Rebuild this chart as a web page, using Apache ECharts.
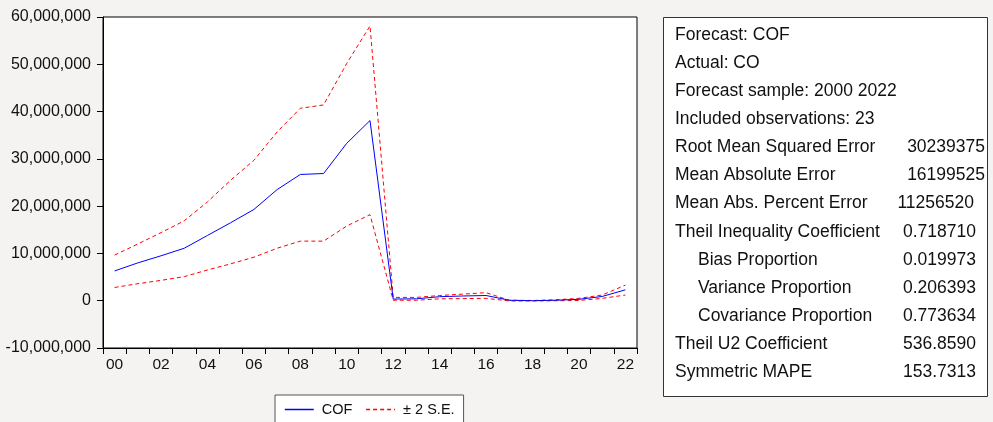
<!DOCTYPE html>
<html>
<head>
<meta charset="utf-8">
<script src="https://cdn.jsdelivr.net/npm/echarts@6/dist/echarts.min.js"></script>
<style>
html,body{margin:0;padding:0;background:#f5f3f1;}
#chart{width:993px;height:422px;}
</style>
</head>
<body>
<div id="chart"></div>
<script>
const years = ['00','01','02','03','04','05','06','07','08','09','10','11','12','13','14','15','16','17','18','19','20','21','22'];
const cof = [6.3e6, 8.0e6, 9.5e6, 11.1e6, 13.8e6, 16.5e6, 19.3e6, 23.5e6, 26.7e6, 26.9e6, 33.3e6, 38.1e6,
             0.35e6, 0.4e6, 0.85e6, 1.0e6, 1.1e6, 0.1e6, 0.0e6, 0.1e6, 0.3e6, 0.9e6, 2.3e6];
const upper = [9.65e6, 12.0e6, 14.4e6, 16.9e6, 20.9e6, 25.5e6, 29.7e6, 35.7e6, 40.7e6, 41.4e6, 50.2e6, 58.1e6,
               0.7e6, 0.7e6, 1.1e6, 1.4e6, 1.7e6, 0.1e6, 0.05e6, 0.2e6, 0.5e6, 1.2e6, 3.3e6];
const lower = [2.8e6, 3.6e6, 4.3e6, 5.1e6, 6.5e6, 7.8e6, 9.2e6, 11.1e6, 12.6e6, 12.6e6, 15.8e6, 18.2e6,
               0.1e6, 0.1e6, 0.4e6, 0.45e6, 0.5e6, -0.05e6, -0.05e6, 0.0e6, 0.05e6, 0.5e6, 1.2e6];
const statLabels = ['Forecast: COF','Actual: CO','Forecast sample: 2000 2022','Included observations: 23',
  'Root Mean Squared Error','Mean Absolute Error','Mean Abs. Percent Error','Theil Inequality Coefficient',
  '   Bias Proportion','   Variance Proportion','   Covariance Proportion','Theil U2 Coefficient','Symmetric MAPE'];
const statValues = ['','','','','30239375','16199525','11256520','0.718710','0.019973','0.206393','0.773634','536.8590','153.7313'];

const FONT = '"Liberation Sans", Arial, sans-serif';
const chart = echarts.init(document.getElementById('chart'), null, {renderer:'canvas'});

const graphics = [{
  type:'rect', shape:{x:663.5, y:17.5, width:324, height:379},
  style:{fill:'#ffffff', stroke:'#333333', lineWidth:1}, z:0
}];
statLabels.forEach((t,i)=>{
  const y = 35 + i*28.1;
  const indent = t.startsWith('   ');
  graphics.push({type:'text', x: indent?698:675, y:y, style:{text:t.trim(), font:'17.5px '+FONT, fill:'#111', textVerticalAlign:'middle', textAlign:'left'}, z:1});
  if (statValues[i]) {
    const rx = (i===4||i===5)?985:(i===6?974:976);
    graphics.push({type:'text', x: rx, y:y, style:{text:statValues[i], font:'17.5px '+FONT, fill:'#111', textVerticalAlign:'middle', textAlign:'right'}, z:1});
  }
});

chart.setOption({
  backgroundColor:'#f5f3f1',
  animation:false,
  grid:{left:103, top:17, right:356, bottom:74, show:true, backgroundColor:'#ffffff', borderColor:'#000', borderWidth:1},
  legend:{
    left:275, top:395, orient:'horizontal',
    backgroundColor:'#ffffff', borderColor:'#555', borderWidth:1,
    padding:[7,9,14,9], itemGap:13, itemWidth:29, itemHeight:1,
    itemStyle:{opacity:0},
    lineStyle:{width:1.5},
    textStyle:{fontFamily:FONT, fontSize:14.5, color:'#111', padding:[0,0,0,3]},
    data:['COF','± 2 S.E.']
  },
  xAxis:{
    type:'category', data:years, boundaryGap:true,
    axisLine:{onZero:false, lineStyle:{color:'#000', width:1}},
    axisTick:{show:true, interval:0, length:6, lineStyle:{color:'#000'}},
    axisLabel:{interval:1, margin:9, fontFamily:FONT, fontSize:15.5, color:'#111'},
    splitLine:{show:false}
  },
  yAxis:{
    type:'value', min:-10000000, max:60000000, interval:10000000,
    axisLine:{show:true, lineStyle:{color:'#000', width:1}},
    axisTick:{show:true, length:6, lineStyle:{color:'#000'}},
    axisLabel:{margin:12, fontFamily:FONT, fontSize:16, color:'#111',
      formatter:v=>Number(v).toLocaleString('en-US')},
    splitLine:{show:false}
  },
  series:[
    {name:'COF', type:'line', data:cof, symbol:'none', lineStyle:{color:'#0000ff', width:1}, itemStyle:{color:'#0000ff'}, z:3},
    {name:'± 2 S.E.', type:'line', data:upper, symbol:'none', lineStyle:{color:'#ff0000', width:1, type:[4,3]}, itemStyle:{color:'#ff0000'}, z:2},
    {name:'± 2 S.E.', type:'line', data:lower, symbol:'none', lineStyle:{color:'#ff0000', width:1, type:[4,3]}, itemStyle:{color:'#ff0000'}, z:2}
  ],
  graphic: graphics
});
</script>
</body>
</html>
